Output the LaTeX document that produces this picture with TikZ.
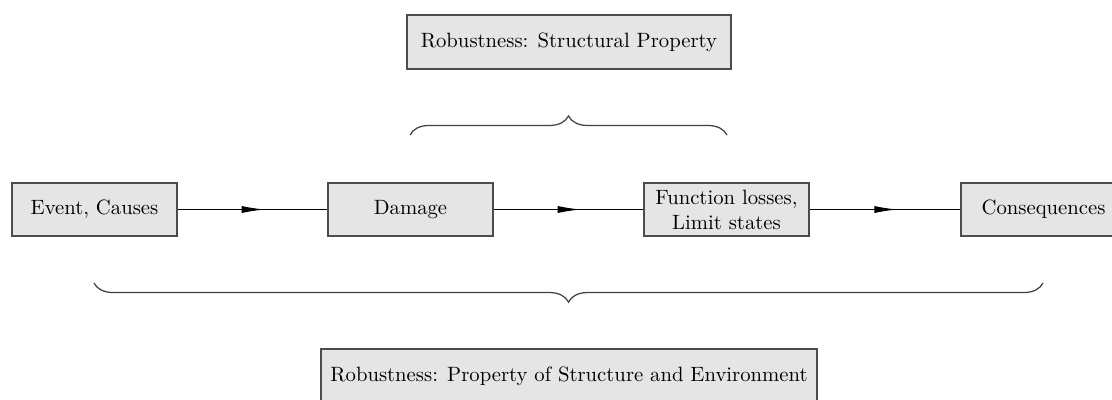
\documentclass[tikz,border=0pt]{standalone}
\usetikzlibrary{decorations.pathreplacing,decorations.markings,arrows.meta}
\begin{document}
\begin{tikzpicture}[x=0.483pt,y=-0.483pt,
  box/.style={draw=black!70, fill=black!10, line width=0.6pt, minimum width=79.7pt, minimum height=25.6pt, align=center, inner sep=1.5pt},
  flow/.style={draw=black, line width=0.5pt, postaction={decorate},
    decoration={markings, mark=at position 0.58 with {\arrow{Latex[length=11pt,width=3.4pt]}}}},
  brc/.style={draw=black!75, line width=0.6pt, decorate, decoration={brace, amplitude=9.2pt}}]
\useasboundingbox (0,0) rectangle (1112,399);
\clip (0,0) rectangle (1112,399);
\node[box] (ev) at (94.5,209.5) {Event, Causes};
\node[box] (dm) at (410.5,209.5) {Damage};
\node[box] (fl) at (726.5,209.5) {Function losses,\\Limit states};
\node[box] (cq) at (1043.5,209.5) {Consequences};
\node[box, minimum width=156.5pt, minimum height=26pt] (sp) at (569,42) {Robustness: Structural Property};
\node[box, minimum width=239.6pt, minimum height=26pt] (se) at (569,376) {Robustness: Property of Structure and Environment};
\draw[flow] (ev) -- (dm);
\draw[flow] (dm) -- (fl);
\draw[flow] (fl) -- (cq);
\coordinate (tl) at (410,135);
\coordinate (tr) at (727,135);
\coordinate (bl) at (94,283);
\coordinate (br) at (1043,283);
\draw[brc] (tl) -- (tr);
\draw[brc] (br) -- (bl);
\end{tikzpicture}
\end{document}
